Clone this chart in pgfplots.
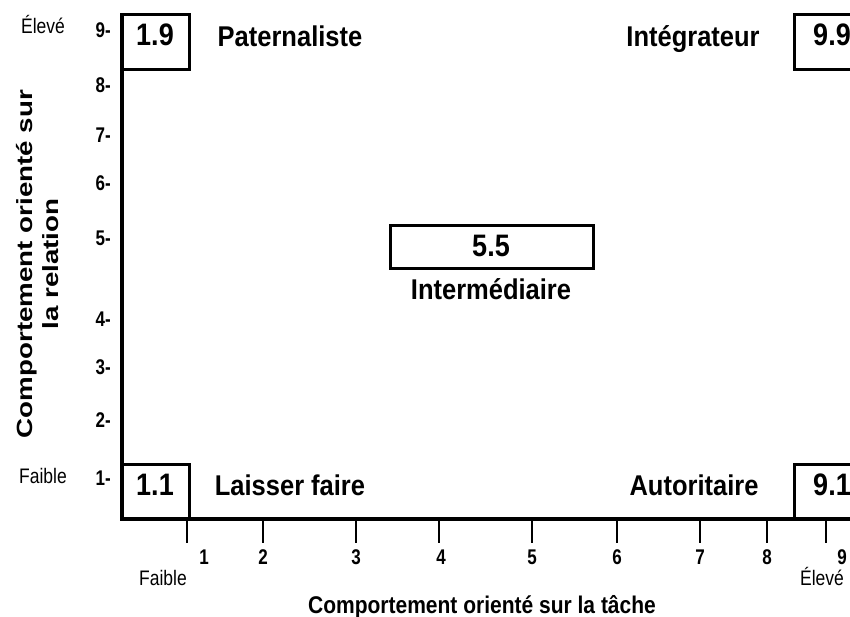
\documentclass[border=0pt]{standalone}
\usepackage{pgfplots}
\pgfplotsset{compat=1.18}
\usepackage{fontspec}
\setmainfont{Liberation Sans}
\usepackage{graphicx}
\newcommand{\fs}[2]{\fontsize{#1}{#1}\selectfont #2}
\begin{document}
\begin{tikzpicture}
\begin{axis}[
  width=850pt, height=617pt, scale only axis,
  xmin=0, xmax=850, ymin=0, ymax=617, y dir=reverse,
  axis lines=none, clip=false, ticks=none,
]
% main axes (left and bottom)
\addplot[black, line width=4pt, line join=miter, mark=none] coordinates {(122,13.5) (122,519) (850,519)};
% corner boxes
\addplot[black, line width=3pt, line join=miter, mark=none] coordinates {(122,15) (189,15) (189,70) (122,70)};
\addplot[black, line width=3pt, line join=miter, mark=none] coordinates {(850,15) (794,15) (794,70) (850,70)};
\addplot[black, line width=3pt, line join=miter, mark=none] coordinates {(122,464) (189,464) (189,519)};
\addplot[black, line width=3pt, line join=miter, mark=none] coordinates {(850,464) (794,464) (794,519)};
% centre box
\addplot[black, line width=3pt, line join=miter, mark=none] coordinates {(390,226) (593,226) (593,269) (390,269) (390,226) (593,226)};
% x tick marks
\addplot[black, line width=1.2pt, mark=none, unbounded coords=jump] coordinates {
 (187,521) (187,543) (nan,nan)
 (263,521) (263,543) (nan,nan)
 (356,521) (356,543) (nan,nan)
 (439,521) (439,543) (nan,nan)
 (532,521) (532,543) (nan,nan)
 (617,521) (617,543) (nan,nan)
 (700,521) (700,543) (nan,nan)
 (767,521) (767,543) (nan,nan)
 (826,521) (826,543)
};
% x tick labels
\foreach \x/\l in {204/1,263/2,356/3,441/4,532/5,617/6,700/7,767/8,842/9}{
  \edef\tmp{\noexpand\node[font=\noexpand\bfseries, inner sep=0pt, anchor=base] at (axis cs:\x,564) {\noexpand\scalebox{1}[1.25]{\noexpand\fs{17}{\l}}};}
  \tmp
}
% y tick labels
\foreach \y/\l in {38/9,93/8,143/7,191/6,246/5,326/4,374/3,427/2,485/1}{
  \edef\tmp{\noexpand\node[font=\noexpand\bfseries, inner sep=0pt, anchor=base east] at (axis cs:111,\y) {\noexpand\scalebox{1}[1.25]{\noexpand\fs{17}{\l-}}};}
  \tmp
}
% Faible / Eleve
\node[inner sep=0pt, anchor=base] at (axis cs:43,34) {\scalebox{1}[1.2]{\fs{17.5}{Élevé}}};
\node[inner sep=0pt, anchor=base] at (axis cs:43,483) {\scalebox{1}[1.2]{\fs{17.5}{Faible}}};
\node[inner sep=0pt, anchor=base] at (axis cs:163,585) {\scalebox{1}[1.2]{\fs{17.5}{Faible}}};
\node[inner sep=0pt, anchor=base] at (axis cs:822,585) {\scalebox{1}[1.2]{\fs{17.5}{Élevé}}};
% box numbers
\node[font=\bfseries, inner sep=0pt, anchor=base] at (axis cs:155,46) {\scalebox{1}[1.15]{\fs{27}{1.9}}};
\node[font=\bfseries, inner sep=0pt, anchor=base] at (axis cs:832,46) {\scalebox{1}[1.15]{\fs{27}{9.9}}};
\node[font=\bfseries, inner sep=0pt, anchor=base] at (axis cs:155,495) {\scalebox{1}[1.15]{\fs{27}{1.1}}};
\node[font=\bfseries, inner sep=0pt, anchor=base] at (axis cs:832,495) {\scalebox{1}[1.15]{\fs{27}{9.1}}};
\node[font=\bfseries, inner sep=0pt, anchor=base] at (axis cs:491,257) {\scalebox{1}[1.15]{\fs{27}{5.5}}};
% style names
\node[font=\bfseries, inner sep=0pt, anchor=base] at (axis cs:290,47) {\scalebox{1}[1.12]{\fs{25.5}{Paternaliste}}};
\node[font=\bfseries, inner sep=0pt, anchor=base] at (axis cs:693,47) {\scalebox{1}[1.12]{\fs{25.5}{Intégrateur}}};
\node[font=\bfseries, inner sep=0pt, anchor=base] at (axis cs:290,495) {\scalebox{1}[1.12]{\fs{25.5}{Laisser faire}}};
\node[font=\bfseries, inner sep=0pt, anchor=base] at (axis cs:694,495) {\scalebox{1}[1.12]{\fs{25.5}{Autoritaire}}};
\node[font=\bfseries, inner sep=0pt, anchor=base] at (axis cs:491,299) {\scalebox{1}[1.12]{\fs{25.5}{Intermédiaire}}};
% axis titles
\node[font=\bfseries, inner sep=0pt, anchor=base] at (axis cs:482,613) {\scalebox{1}[1.15]{\fs{21}{Comportement orienté sur la tâche}}};
\node[font=\bfseries, inner sep=0pt, rotate=90] at (axis cs:40,264) {\scalebox{1.26}[1]{\fontsize{22}{26}\selectfont\begin{tabular}{@{}c@{}}Comportement orienté sur\\la relation\end{tabular}}};
\end{axis}
\pgfresetboundingbox
\path (current axis.south west) rectangle (current axis.north east);
\end{tikzpicture}
\end{document}
